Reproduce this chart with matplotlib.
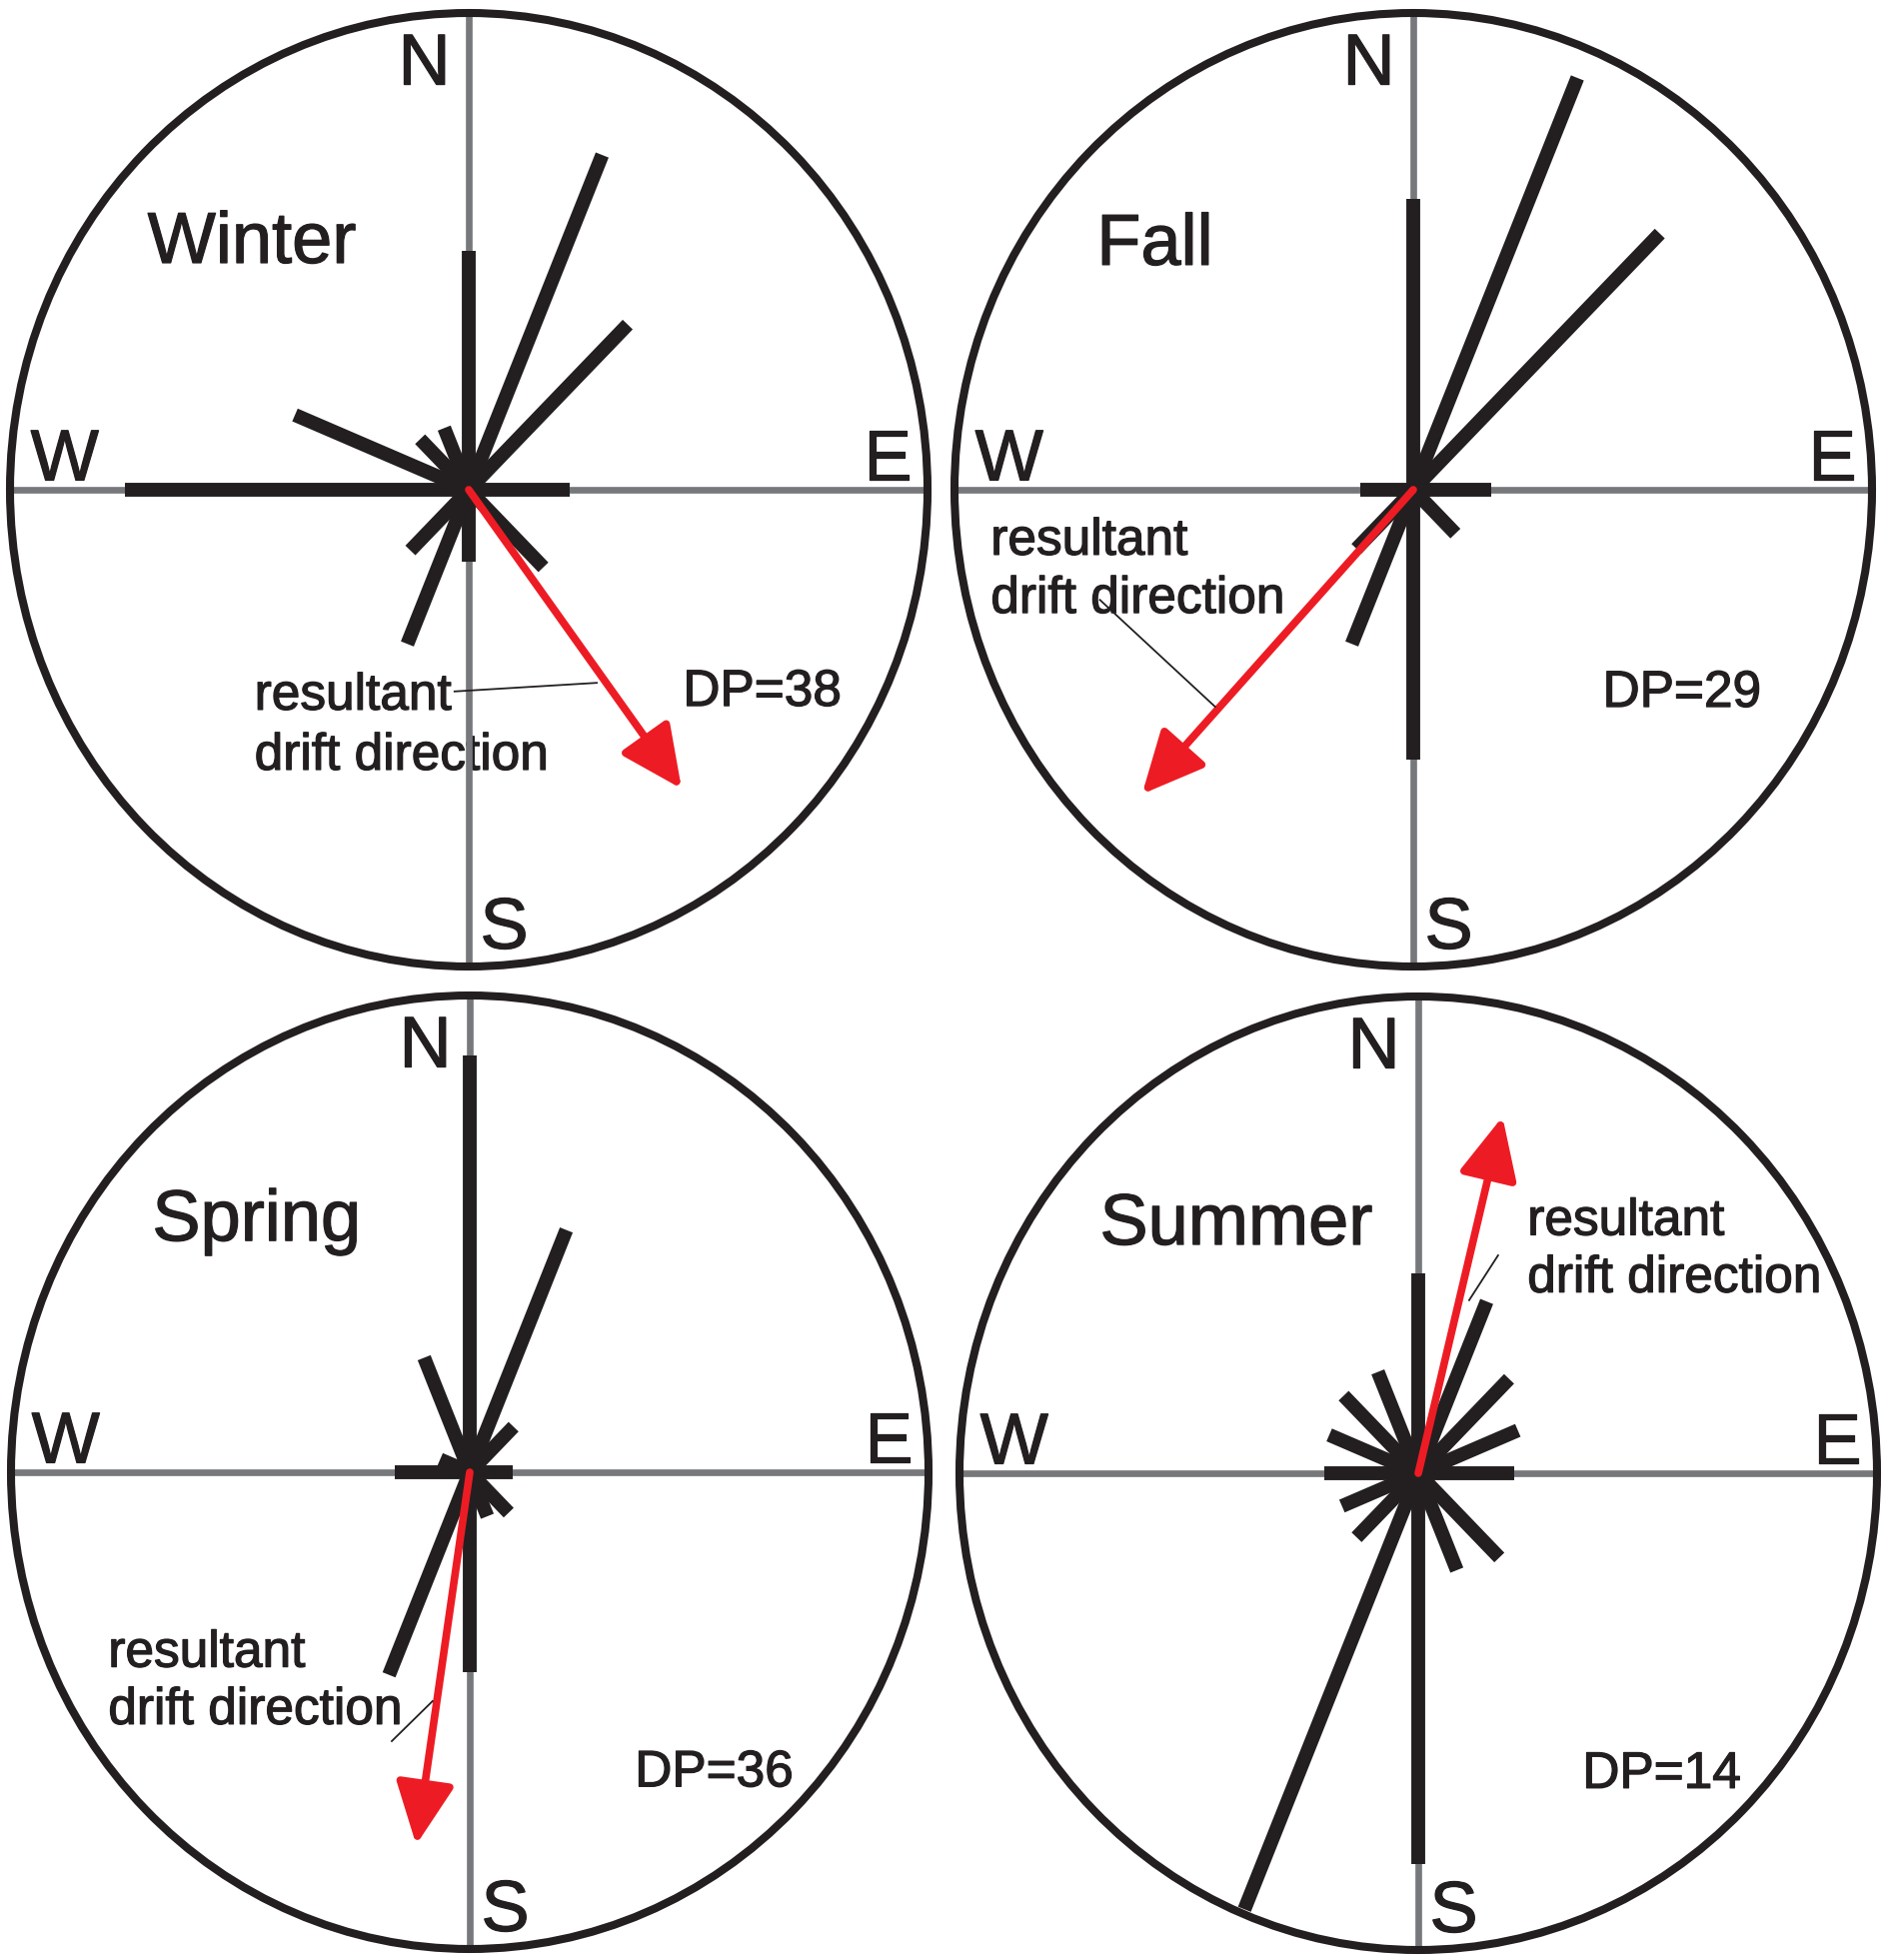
import numpy as np
import matplotlib
matplotlib.use("Agg")
from matplotlib import pyplot as plt
from matplotlib.patches import Ellipse, FancyArrowPatch
import matplotlib.patheffects as pe

plt.rcParams['font.family'] = ['Liberation Sans', 'DejaVu Sans']

# sand rose data: direction (deg from N, clockwise) and relative spoke length
seasons = ["Winter", "Fall", "Spring", "Summer"]
dp_values = [38, 29, 36, 14]

winter_dirs = [0, 22.5, 45, 90, 135, 180, 202.5, 225, 270, 292.5, 315, 337.5]
winter_lens = [0.50, 0.76, 0.49, 0.22, 0.23, 0.15, 0.35, 0.18, 0.75, 0.41, 0.15, 0.14]

fall_dirs = [0, 22.5, 45, 90, 135, 180, 202.5, 225, 270]
fall_lens = [0.61, 0.935, 0.76, 0.17, 0.13, 0.565, 0.35, 0.175, 0.115]

spring_dirs = [0, 22.5, 45, 90, 135, 157.5, 180, 202.5, 270, 292.5, 337.5]
spring_lens = [0.874, 0.55, 0.135, 0.094, 0.12, 0.10, 0.42, 0.46, 0.164, 0.07, 0.26]

summer_dirs = [0, 22.5, 45, 67.5, 90, 135, 157.5, 180, 202.5, 225, 247.5, 270, 292.5, 315, 337.5]
summer_lens = [0.42, 0.39, 0.28, 0.235, 0.21, 0.25, 0.22, 0.82, 0.99, 0.19, 0.18, 0.205, 0.21, 0.23, 0.23]

# resultant drift direction (deg) and relative magnitude
rdd_dirs = [143.5, 222.8, 188.5, 13.8]
rdd_lens = [0.78, 0.87, 0.79, 0.77]

spoke_dirs = [winter_dirs, fall_dirs, spring_dirs, summer_dirs]
spoke_lens = [winter_lens, fall_lens, spring_lens, summer_lens]

# layout (pixels in the figure, then normalized panel units)
W, H = 1890, 1961
centers = [(469, 490), (1414, 490), (470, 1473), (1419, 1474)]
rx, ry = 459, 477

title_pos = [(-0.70, 0.476), (-0.69, 0.472), (-0.692, 0.486), (-0.694, 0.48)]
dp_pos = [(0.467, -0.453), (0.413, -0.455), (0.36, -0.659), (0.358, -0.66)]
label_pos = [(-0.467, -0.461, -0.587), (-0.921, -0.136, -0.258),
             (-0.788, -0.408, -0.528), (0.238, 0.50, 0.38)]
leader_pos = [((-0.031, -0.423), (0.279, -0.405)),
              ((-0.683, -0.231), (-0.432, -0.455)),
              ((-0.170, -0.564), (-0.081, -0.48)),
              ((0.174, 0.457), (0.111, 0.363))]

black = '#231f20'
grey = '#77787b'
red = '#ed1c24'

# slightly heavier glyphs, like the original print
heavy = [pe.withStroke(linewidth=0.9, foreground=black)]

fig = plt.figure(figsize=(W / 100, H / 100), dpi=100)

for i, name in enumerate(seasons):
    cx, cy = centers[i]
    pad = 1.1
    ax = fig.add_axes([(cx - pad * rx) / W, 1 - (cy + pad * ry) / H,
                       2 * pad * rx / W, 2 * pad * ry / H])
    ax.set_xlim(-pad, pad)
    ax.set_ylim(-pad, pad)
    ax.axis('off')

    # compass cross
    ax.plot([-1, 1], [0, 0], color=grey, lw=4.8, zorder=2, solid_capstyle='butt')
    ax.plot([0, 0], [-1, 1], color=grey, lw=4.8, zorder=2, solid_capstyle='butt')

    # spokes
    th = np.radians(spoke_dirs[i])
    L = np.array(spoke_lens[i])
    for u, v in zip(L * np.sin(th), L * np.cos(th)):
        ax.plot([0, u], [0, v], color=black, lw=10, solid_capstyle='butt', zorder=3)

    # resultant drift direction arrow
    a = np.radians(rdd_dirs[i])
    tip = (rdd_lens[i] * np.sin(a), rdd_lens[i] * np.cos(a))
    arr = FancyArrowPatch((0, 0), tip, arrowstyle='-|>,head_length=38,head_width=18',
                          mutation_scale=1, color=red, lw=5.5, shrinkA=0, shrinkB=0,
                          zorder=4)
    ax.add_patch(arr)

    # outer circle
    ax.add_patch(Ellipse((0, 0), 2, 2, fill=False, ec=black, lw=5.8, zorder=5))

    # compass letters
    fs_big = 52
    for s, x, y, ha in [("N", -0.04, 0.85, 'right'), ("S", 0.025, -0.962, 'left'),
                        ("W", -0.955, 0.02, 'left'), ("E", 0.965, 0.02, 'right')]:
        ax.text(x, y, s, fontsize=fs_big, ha=ha, va='baseline', color=black,
                zorder=6, path_effects=heavy)

    # season title and DP
    ax.text(title_pos[i][0], title_pos[i][1], name, fontsize=fs_big, ha='left',
            va='baseline', color=black, zorder=6, path_effects=heavy)
    ax.text(dp_pos[i][0], dp_pos[i][1], "DP=%d" % dp_values[i], fontsize=37,
            ha='left', va='baseline', color=black, zorder=6, path_effects=heavy)

    # resultant drift direction label with leader line
    lx, ly1, ly2 = label_pos[i]
    ax.text(lx, ly1, "resultant", fontsize=37, ha='left', va='baseline', color=black,
            zorder=1, path_effects=heavy)
    ax.text(lx, ly2, "drift direction", fontsize=37, ha='left', va='baseline', color=black,
            zorder=1, path_effects=heavy)
    (x0, y0), (x1, y1) = leader_pos[i]
    ax.plot([x0, x1], [y0, y1], color=black, lw=1.3, zorder=6)

fig.savefig("out.png", dpi=100, facecolor='white')
